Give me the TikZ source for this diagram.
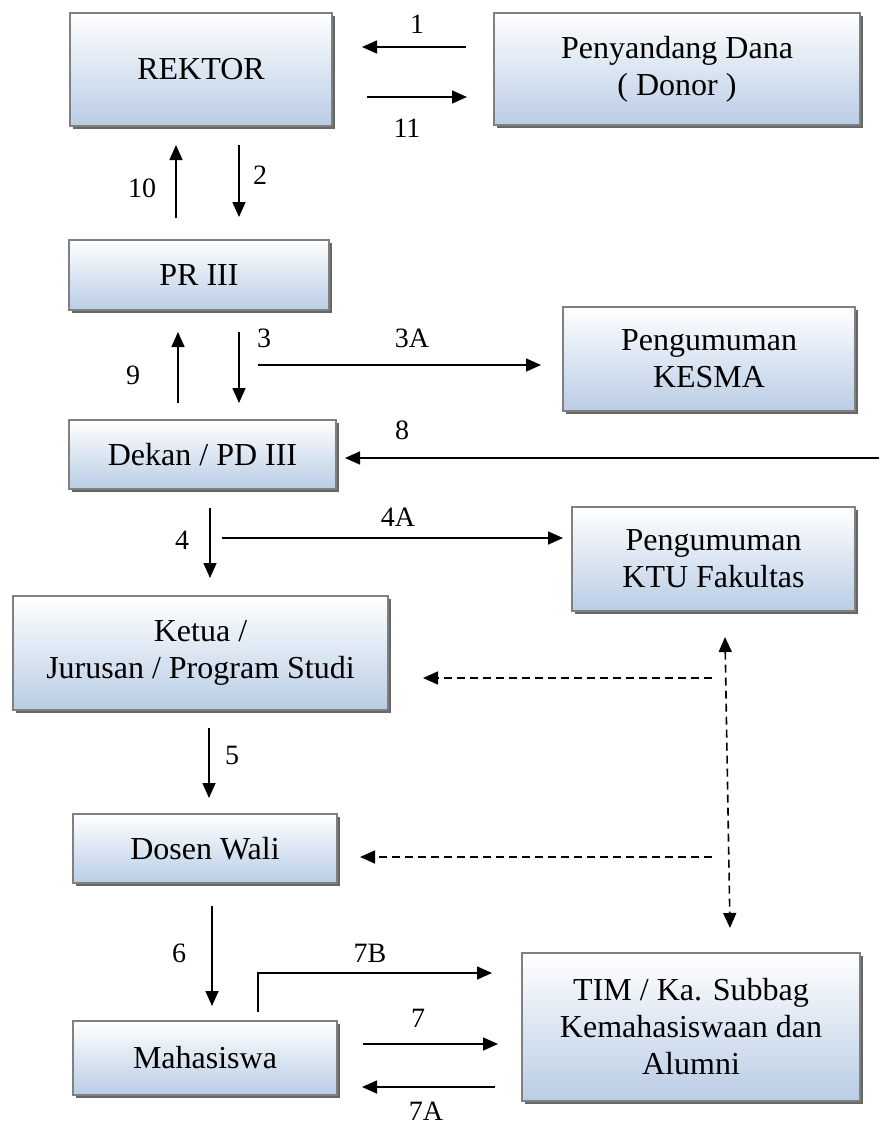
\documentclass[tikz,border=0pt]{standalone}
\usepackage{fontspec}
\setmainfont{Liberation Serif}
\usetikzlibrary{arrows.meta,shadows}
\definecolor{birumuda}{RGB}{185,205,229}
\definecolor{garis}{RGB}{128,128,128}
\tikzset{
  kotak/.style={rectangle,draw=garis,line width=2pt,top color=white,bottom color=birumuda,
    drop shadow={shadow xshift=3pt,shadow yshift=-3pt,fill=black!60,opacity=1},
    align=center,inner sep=0pt,font=\fontsize{32}{37}\selectfont},
  panah/.style={-{Triangle[length=15pt,width=13pt]},line width=1.6pt},
  putus/.style={line width=1.6pt,dash pattern=on 8pt off 5pt},
  angka/.style={font=\fontsize{28}{32}\selectfont,inner sep=0pt},
}
\begin{document}
\begin{tikzpicture}[x=1pt,y=-1pt]
				\useasboundingbox (0,0) rectangle (879,1129);
				% kotak-kotak
				\node [kotak,minimum width=262pt,minimum height=113pt] (rektor) at (201,69.5) {REKTOR};
				\node [kotak,minimum width=366pt,minimum height=112pt] (donor) at (677,69) {Penyandang Dana\\( Donor )};
				\node [kotak,minimum width=260pt,minimum height=70pt] (pr) at (199,275) {PR III};
				\node [kotak,minimum width=292pt,minimum height=104pt] (kesma) at (709,359) {Pengumuman\\KESMA};
				\node [kotak,minimum width=267pt,minimum height=69pt] (dekan) at (202.5,454.5) {Dekan / PD III};
				\node [kotak,minimum width=283pt,minimum height=104pt] (ktu) at (713.5,559) {Pengumuman\\KTU Fakultas};
				\node [kotak,minimum width=375pt,minimum height=114pt] (ketua) at (200.5,653) {Ketua /\\Jurusan / Program Studi};
				\node [kotak,minimum width=264pt,minimum height=69pt] (dosen) at (205,848.5) {Dosen Wali};
				\node [kotak,minimum width=264pt,minimum height=74pt] (mhs) at (205,1058) {Mahasiswa};
				\node [kotak,minimum width=338pt,minimum height=148pt] (tim) at (691,1027) {TIM / Ka. Subbag\\Kemahasiswaan dan\\Alumni};
				% ujung panah
				\coordinate (a1) at (466,47);  \coordinate (b1) at (362,47);
				\coordinate (a11) at (367,97); \coordinate (b11) at (467,97);
				\coordinate (a10) at (176,218); \coordinate (b10) at (176,145);
				\coordinate (a2) at (239,145); \coordinate (b2) at (239,217);
				\coordinate (a9) at (178,403); \coordinate (b9) at (178,332);
				\coordinate (a3) at (239,332); \coordinate (b3) at (239,403);
				\coordinate (a3A) at (258,365); \coordinate (b3A) at (541,365);
				\coordinate (a8) at (879,458); \coordinate (b8) at (345,458);
				\coordinate (a4) at (210,508); \coordinate (b4) at (210,578);
				\coordinate (a4A) at (222,538); \coordinate (b4A) at (563,538);
				\coordinate (a5) at (209,728); \coordinate (b5) at (209,798);
				\coordinate (a6) at (212,906); \coordinate (b6) at (212,1006);
				\coordinate (a7B) at (258,1012); \coordinate (b7B) at (492,973);
				\coordinate (a7) at (363,1044); \coordinate (b7) at (498,1044);
				\coordinate (a7A) at (495,1087); \coordinate (b7A) at (362,1087);
				\coordinate (d1) at (725,637); \coordinate (d2) at (730,928);
				\coordinate (e1) at (712,678); \coordinate (f1) at (423,678);
				\coordinate (e2) at (712,857); \coordinate (f2) at (360,857);
				% panah
				\foreach \p in {1,11,10,2,9,3,3A,8,4,4A,5,6,7,7A}
					\draw [panah] (a\p) -- (b\p);
				\draw [panah] (a7B) |- (b7B);
				\draw [putus,{Triangle[length=15pt,width=13pt]}-{Triangle[length=15pt,width=13pt]}] (d1) -- (d2);
				\draw [putus,-{Triangle[length=15pt,width=13pt]}] (e1) -- (f1);
				\draw [putus,-{Triangle[length=15pt,width=13pt]}] (e2) -- (f2);
				% angka
				\node [angka] (n1) at (417,24) {1};
				\node [angka] (n11) at (407,128) {11};
				\node [angka] (n10) at (142,188) {10};
				\node [angka] (n2) at (260,175) {2};
				\node [angka] (n9) at (133,375) {9};
				\node [angka] (n3) at (264,338) {3};
				\node [angka] (n3A) at (412,338) {3A};
				\node [angka] (n8) at (402,430) {8};
				\node [angka] (n4) at (182,540) {4};
				\node [angka] (n4A) at (398,517) {4A};
				\node [angka] (n5) at (232,755) {5};
				\node [angka] (n6) at (179,953) {6};
				\node [angka] (n7B) at (370,953) {7B};
				\node [angka] (n7) at (418,1018) {7};
				\node [angka] (n7A) at (426,1111) {7A};
			\end{tikzpicture}
\end{document}
